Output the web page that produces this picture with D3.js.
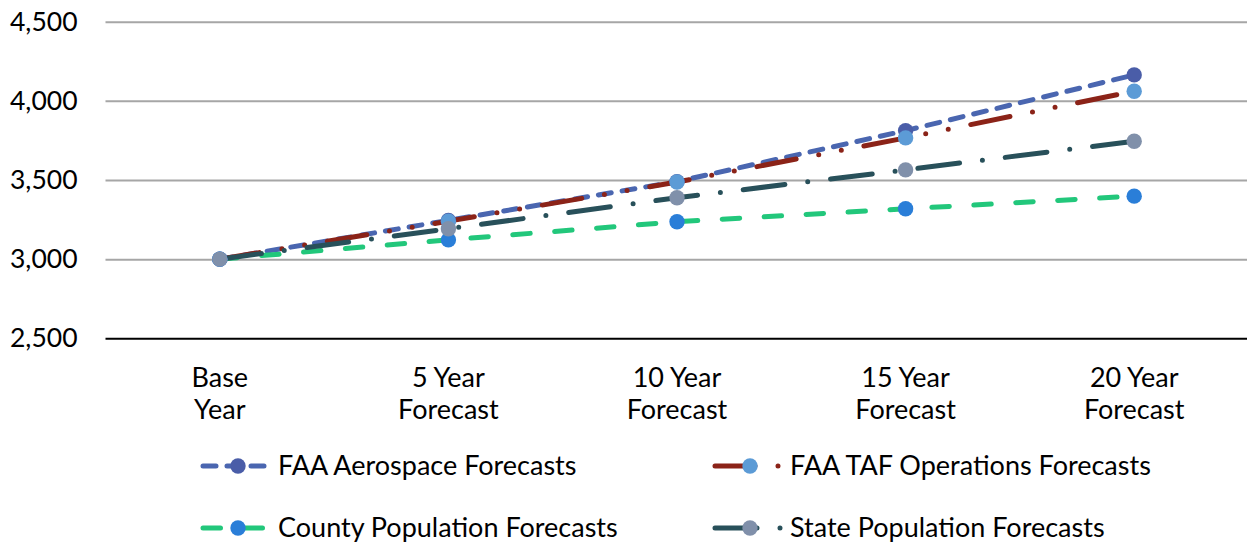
<!DOCTYPE html>
<html>
<head>
<meta charset="utf-8">
<script src="https://cdn.jsdelivr.net/npm/d3@7"></script>
<style>
  html, body { margin: 0; padding: 0; background: #fff; }
  svg { display: block; }
  text { font-family: Lato, "Open Sans", sans-serif; fill: #000; }
</style>
</head>
<body>
<svg id="chart" width="1247" height="543"></svg>
<script>
// Forecast periods along the horizontal axis
const categories = [["Base", "Year"], ["5 Year", "Forecast"], ["10 Year", "Forecast"], ["15 Year", "Forecast"], ["20 Year", "Forecast"]];
const yTicks = [2500, 3000, 3500, 4000, 4500];

// Operations by forecast method
const faaAerospace = [3000, 3245, 3490, 3812, 4164];
const faaTaf       = [3000, 3240, 3487, 3766, 4061];
const countyPop    = [3000, 3122, 3236, 3318, 3398];
const statePop     = [3000, 3192, 3388, 3564, 3745];

const seriesNames = ["FAA Aerospace Forecasts", "FAA TAF Operations Forecasts", "County Population Forecasts", "State Population Forecasts"];

const series = [
  { name: seriesNames[0], values: faaAerospace, line: "#4A66B0", marker: "#4A5DA8", dash: "13,11" },
  { name: seriesNames[1], values: faaTaf,       line: "#8B2318", marker: "#5C9BD6", dash: "40,23,0,23,0,23" },
  { name: seriesNames[2], values: countyPop,    line: "#22C77B", marker: "#2A7ED8", dash: "17.5,24.5" },
  { name: seriesNames[3], values: statePop,     line: "#28505A", marker: "#8090AA", dash: "42,23,0,23" }
];

const svg = d3.select("#chart");
const plotLeft = 105.5, plotRight = 1248.5, plotTop = 21.7, plotBottom = 338.3;

const x = d3.scalePoint().domain(d3.range(categories.length)).range([plotLeft, plotRight]).padding(0.5);
const y = d3.scaleLinear().domain([2500, 4500]).range([plotBottom, plotTop]);

// Horizontal gridlines and value labels
const yAxis = svg.append("g")
  .attr("transform", `translate(${plotLeft},0)`)
  .call(d3.axisLeft(y).tickValues(yTicks).tickFormat(d3.format(",")).tickSize(-(1247 - plotLeft)).tickPadding(28));
yAxis.select(".domain").remove();
yAxis.selectAll(".tick line").attr("stroke", "#A6A6A6").attr("stroke-width", 2);
yAxis.selectAll(".tick").filter(d => d === 2500).select("line").attr("stroke", "#000");
yAxis.selectAll(".tick text").attr("font-size", 26.5).attr("fill", "#000").attr("font-family", "Lato, sans-serif");

// Category labels, two lines each
const xLab = svg.append("g");
categories.forEach((lines, i) => {
  const t = xLab.append("text").attr("text-anchor", "middle").attr("font-size", 27);
  lines.forEach((s, k) => t.append("tspan").attr("x", x(i)).attr("y", 387 + k * 32).text(s));
});

const line = d3.line().x((d, i) => x(i)).y(d => y(d));

// Lines first, then markers on top
series.forEach(s => {
  svg.append("path")
    .attr("d", line(s.values))
    .attr("fill", "none")
    .attr("stroke", s.line)
    .attr("stroke-width", 5)
    .attr("stroke-linecap", "round")
    .attr("stroke-dasharray", s.dash);
});
series.forEach(s => {
  svg.append("g").selectAll("circle").data(s.values).join("circle")
    .attr("cx", (d, i) => x(i)).attr("cy", d => y(d)).attr("r", 7.7)
    .attr("fill", s.marker);
});

// Legend, two columns by two rows
const legendPos = [[201, 466], [713, 466], [201, 528], [713, 528]];
series.forEach((s, i) => {
  const [lx, ly] = legendPos[i];
  const g = svg.append("g").attr("transform", `translate(${lx},${ly})`);
  g.append("line").attr("x1", 2).attr("x2", 70).attr("y1", 0).attr("y2", 0)
    .attr("stroke", s.line).attr("stroke-width", 5).attr("stroke-linecap", "round")
    .attr("stroke-dasharray", s.dash);
  g.append("circle").attr("cx", 37).attr("cy", 0).attr("r", 7.7).attr("fill", s.marker);
  g.append("text").attr("x", 77).attr("y", 0).attr("dy", "0.35em").attr("font-size", 27).text(s.name);
});
</script>
</body>
</html>
